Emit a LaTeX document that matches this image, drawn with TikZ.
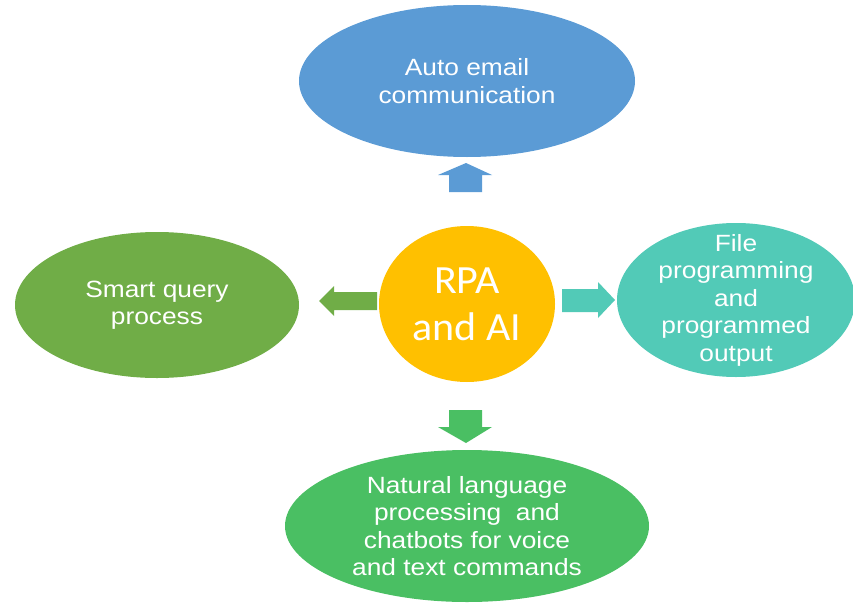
\documentclass[tikz,border=0pt]{standalone}
\usepackage{fontspec}
\setmainfont{Liberation Sans}[FakeStretch=1.12]
\newfontfamily\calib{Carlito}[FakeStretch=1.05]
\usetikzlibrary{shapes.geometric}
\definecolor{cblue}{HTML}{5B9BD5}
\definecolor{cgreen}{HTML}{70AD47}
\definecolor{cteal}{HTML}{52CAB7}
\definecolor{corange}{HTML}{FFC000}
\definecolor{cgreenb}{HTML}{4ABF63}
\tikzset{
  bubble/.style={ellipse, inner sep=0pt},
  btext/.style={text=white, align=center, inner sep=0pt,
    font=\fontsize{23.5}{27.5}\selectfont}
}
\begin{document}
\begin{tikzpicture}[x=1pt,y=-1pt]
\useasboundingbox (0,0) rectangle (853,602);
\node[bubble, fill=corange, minimum width=176pt, minimum height=156pt] (c) at (467,304) {};
\node[btext, font=\calib\fontsize{40}{47}\selectfont] (ct) at (c.center) {RPA\\and AI};
\node[bubble, fill=cblue, minimum width=336pt, minimum height=152pt] (t) at (467,81) {};
\node[btext] (tt) at (t.center) {Auto email\\communication};
\node[bubble, fill=cgreen, minimum width=284pt, minimum height=146pt] (l) at (157,305) {};
\node[btext] (lt) at (l.center) {Smart query\\process};
\node[bubble, fill=cteal, minimum width=238pt, minimum height=154pt] (r) at (736,300) {};
\node[btext] (rt) at (r.center) {File\\programming\\and\\programmed\\output};
\node[bubble, fill=cgreenb, minimum width=364pt, minimum height=152pt] (b) at (467,526) {};
\node[btext] (bt) at (b.center) {Natural language\\processing~~and\\chatbots for voice\\and text commands};
% block arrows
\fill[cblue] (449,192) -- (449,175) -- (438,175) -- (466,163) -- (492,175) -- (482,175) -- (482,192) -- cycle;
\fill[cgreen] (377,292) -- (334,292) -- (334,286) -- (319,301) -- (334,316) -- (334,310) -- (377,310) -- cycle;
\fill[cteal] (562,289) -- (598,289) -- (598,282) -- (615,300) -- (598,318) -- (598,312) -- (562,312) -- cycle;
\fill[cgreenb] (449,410) -- (482,410) -- (482,427) -- (492,427) -- (466,443) -- (438,427) -- (449,427) -- cycle;
\end{tikzpicture}
\end{document}
